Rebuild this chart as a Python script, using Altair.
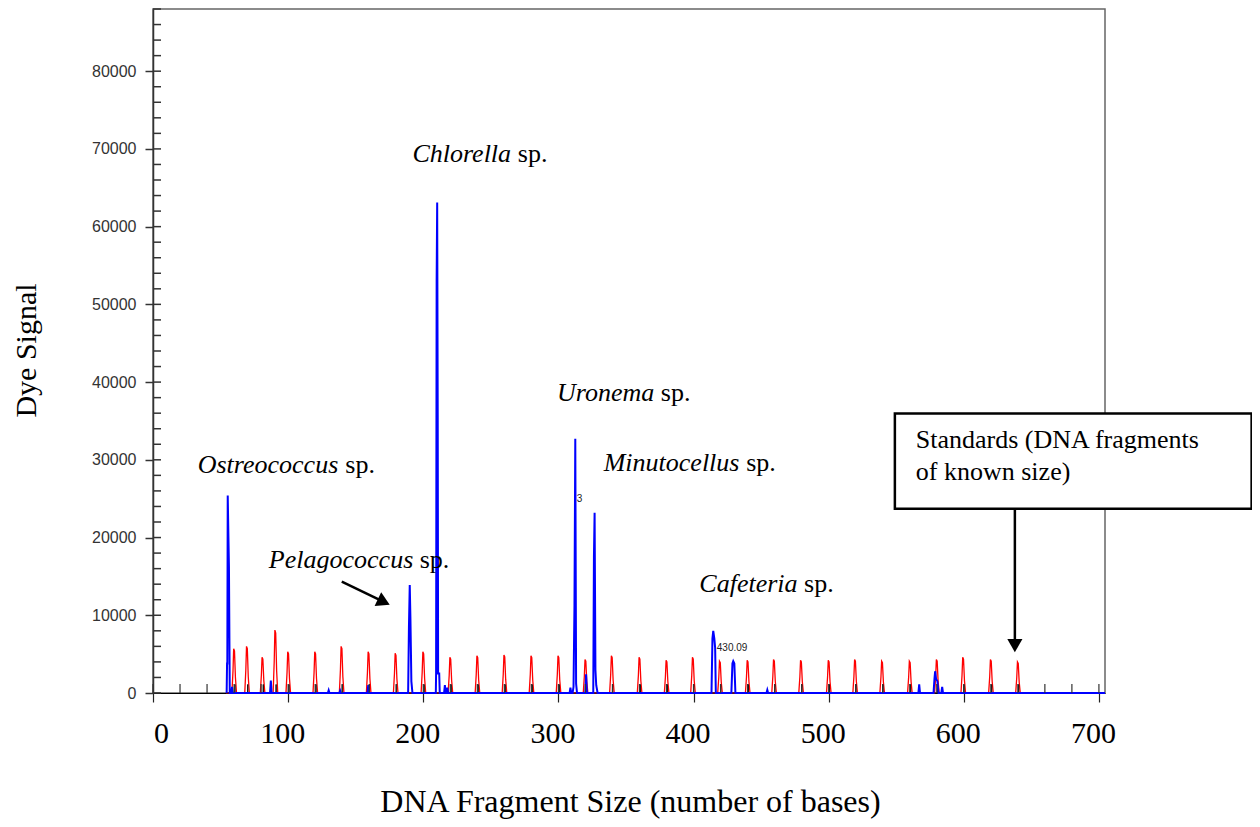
import altair as alt
import pandas as pd

# ---------------- data ----------------
X_MAX = 704.5
Y_MAX = 88000

# size-standard (red) peaks: position (bases), height (signal)
RED_POS = [60, 69.5, 81, 90.5, 100, 120, 139.5, 159.5, 179.5, 200, 220, 240, 260, 280,
           300, 320, 339.5, 360, 380, 399.5, 419.5, 440, 459.5, 479.5, 500, 519.5, 539.5,
           560, 580, 599.5, 620, 640]
RED_H = [5700, 6000, 4600, 8100, 5300, 5300, 6000, 5300, 5100, 5300, 4600, 4800, 4900, 4800,
         4800, 4300, 4800, 4600, 4200, 4600, 4100, 4200, 4300, 4200, 4200, 4300, 4100,
         4100, 4300, 4600, 4300, 4000]
BLACK_H = 1100

# sample (blue) trace: major peak profiles (x, signal)
OSTREO_X = [54.5, 54.8, 55.0, 55.3, 55.8, 56.2, 56.8]
OSTREO_Y = [0, 3800, 3800, 25400, 20200, 16300, 0]
PELAGO_X = [188.8, 189.4, 190.0, 190.5, 191.2, 192.0]
PELAGO_Y = [0, 8500, 13900, 9600, 1500, 0]
CHLOR_X = [209.3, 209.5, 209.9, 210.3, 210.7, 211.0, 211.8, 212.2]
CHLOR_Y = [0, 2500, 53000, 63100, 35700, 2500, 2500, 0]
URON_X = [310.5, 311.2, 311.9, 312.5, 313.1, 313.8]
URON_Y = [0, 800, 11300, 32700, 1200, 0]
MINUT_X = [325.8, 326.3, 326.8, 327.4, 328.0, 329.0]
MINUT_Y = [0, 17400, 23200, 3000, 1000, 0]
CAFE_X = [413.3, 414.0, 414.6, 415.4, 416.0, 416.5]
CAFE_Y = [0, 7000, 8000, 7000, 5800, 0]
P430_X = [428.0, 428.8, 429.4, 430.2, 431.0]
P430_Y = [0, 3800, 4100, 3800, 0]
P579_X = [577.6, 578.3, 578.8, 579.5, 580.5, 581.3]
P579_Y = [0, 1800, 2800, 1800, 1500, 0]
# small blue bumps: position, height
BLUE_SMALL_POS = [58.5, 87.2, 130.0, 138.5, 159.3, 216.0, 217.8, 308.9, 320.5, 454.6, 567.0, 584.0]
BLUE_SMALL_H = [800, 1600, 350, 300, 1000, 1000, 700, 700, 2400, 400, 1100, 800]

X_TICKS = [0, 100, 200, 300, 400, 500, 600, 700]
X_TICKS_INNER = [0, 20, 40, 60, 80, 100, 120, 140, 160, 180, 200, 220, 240, 260, 280, 300,
                 320, 340, 360, 380, 400, 420, 440, 460, 480, 500, 520, 540, 560, 580, 600,
                 620, 640, 660, 680, 700]
Y_TICKS = [0, 10000, 20000, 30000, 40000, 50000, 60000, 70000, 80000]
Y_TICKS_INNER = [0, 2000, 4000, 6000, 8000, 10000, 12000, 14000, 16000, 18000, 20000, 22000,
                 24000, 26000, 28000, 30000, 32000, 34000, 36000, 38000, 40000, 42000, 44000,
                 46000, 48000, 50000, 52000, 54000, 56000, 58000, 60000, 62000, 64000, 66000,
                 68000, 70000, 72000, 74000, 76000, 78000, 80000, 82000, 84000, 86000, 88000]

# annotations
SPECIES = ["Ostreococcus", "Chlorella", "Uronema", "Minutocellus", "Pelagococcus", "Cafeteria"]
SPECIES_END_X = [137.1, 265.0, 371.0, 434.0, 192.6, 477.0]
SP_X = [142.3, 270.0, 375.8, 439.0, 197.4, 481.8]
SPECIES_Y = [28350, 68380, 37620, 28520, 16090, 13040]

SMALL_TEXT = ["3", "430.09"]
SMALL_X = [313.6, 417.2]
SMALL_Y = [24560, 5440]

BOX_X = [549.0, 813.0]
BOX_Y = [23720, 35950]
BOX_LINES = ["Standards (DNA fragments", "of known size)"]
BOX_TEXT_X = 564.5
BOX_TEXT_Y = [31510, 27450]

ARROW_X1 = [139.7, 637.8]
ARROW_Y1 = [14320, 23720]
ARROW_X2 = [170.8, 637.8]
ARROW_Y2 = [11720, 6090]
ARROW_SHAPE = ["triangle-right", "triangle-down"]
ARROW_ANGLE = [25.6, 0]

# ---------------- build tables ----------------
PEAK_DX = [-1.6, -0.8, -0.3, 0.3, 1.0, 1.8]      # glyph of a standard peak
PEAK_FRAC = [0, 0.5, 1.0, 0.95, 0.35, 0]


def trace(profiles, start, end):
    pts = [(start, 0)]
    for xs_, ys_ in sorted(profiles, key=lambda p: p[0][0]):
        pts.extend(zip(xs_, ys_))
    pts.append((end, 0))
    return pts


red_profiles = [([p + d for d in PEAK_DX], [h * f for f in PEAK_FRAC]) for p, h in zip(RED_POS, RED_H)]
black_profiles = [([p + 0.45, p + 0.6, p + 0.75], [0, BLACK_H, 0]) for p in RED_POS]
blue_profiles = [(OSTREO_X, OSTREO_Y), (PELAGO_X, PELAGO_Y), (CHLOR_X, CHLOR_Y), (URON_X, URON_Y),
                 (MINUT_X, MINUT_Y), (CAFE_X, CAFE_Y), (P430_X, P430_Y), (P579_X, P579_Y)]
blue_profiles += [([p - 0.6, p, p + 0.6], [0, h, 0]) for p, h in zip(BLUE_SMALL_POS, BLUE_SMALL_H)]

rows = []
for name, pts in [("red", trace(red_profiles, 54, 650)),
                  ("black", trace(black_profiles, 54, 650)),
                  ("blue", trace(blue_profiles, 54.5, X_MAX))]:
    for i, (x, y) in enumerate(pts):
        rows.append({"series": name, "x": x, "y": y, "i": i})
traces = pd.DataFrame(rows)

xs = alt.Scale(domain=[0, X_MAX], nice=False, zero=False)
ys = alt.Scale(domain=[0, Y_MAX], nice=False)

SERIF = "Liberation Serif"
SANS = "Liberation Sans"

x_axis = alt.Axis(values=X_TICKS, tickSize=9, tickColor="#222", tickWidth=1.2,
                  domainColor="black", domainWidth=1, grid=False,
                  labelFont=SERIF, labelFontSize=30, labelColor="black",
                  labelBaseline="alphabetic", labelPadding=40, labelFlush=False,
                  labelOverlap=False,
                  labelOffset={"condition": {"test": "datum.value == 0", "value": 8}, "value": -6},
                  title="DNA Fragment Size (number of bases)", titleFont=SERIF,
                  titleFontSize=32, titleFontWeight="normal", titleColor="black",
                  titleX=477, titleY=118, titleAlign="center", titleBaseline="alphabetic")
y_axis = alt.Axis(values=Y_TICKS, format="d", tickSize=8, tickColor="#333", tickWidth=1.5,
                  domainColor="#333", domainWidth=1.5, grid=False,
                  labelFont=SANS, labelFontSize=16, labelColor="#333", labelPadding=9,
                  title="Dye Signal", titleFont=SERIF, titleFontSize=30,
                  titleFontWeight="normal", titleColor="black", titleAngle=270,
                  titleX=-127, titleY=341, titleAlign="center", titleBaseline="middle")


def X(field):
    return alt.X(field, scale=xs, axis=x_axis)


def Y(field):
    return alt.Y(field, scale=ys, axis=y_axis)


def line_layer(name, color, width):
    return alt.Chart(traces[traces.series == name]).mark_line(
        color=color, strokeWidth=width, interpolate="linear").encode(
        x=X("x:Q"), y=Y("y:Q"), order="i:Q")


red = line_layer("red", "#ff0000", 1.3)
black = line_layer("black", "#111111", 1)
blue = line_layer("blue", "#0000ff", 2)

x_inner = alt.Chart(pd.DataFrame({"v": X_TICKS_INNER})).mark_rule(color="#333", strokeWidth=1.2).encode(
    x=X("v:Q"), y=alt.value(675), y2=alt.value(684))
y_inner = alt.Chart(pd.DataFrame({"v": Y_TICKS_INNER})).mark_rule(color="#333", strokeWidth=1.5).encode(
    y=Y("v:Q"), x=alt.value(0), x2=alt.value(8))

sp_df = pd.DataFrame({"name": SPECIES, "xe": SPECIES_END_X, "xs": SP_X, "y": SPECIES_Y})
italic = alt.Chart(sp_df).mark_text(font=SERIF, fontSize=26, fontStyle="italic", align="right",
                                    baseline="alphabetic", color="black").encode(
    x=X("xe:Q"), y=Y("y:Q"), text="name:N")
sp = alt.Chart(sp_df).mark_text(font=SERIF, fontSize=26, align="left", baseline="alphabetic",
                                color="black", text="sp.").encode(
    x=X("xs:Q"), y=Y("y:Q"))

small = alt.Chart(pd.DataFrame({"t": SMALL_TEXT, "x": SMALL_X, "y": SMALL_Y})).mark_text(
    font=SANS, fontSize=10, align="left", baseline="alphabetic", color="#222").encode(
    x=X("x:Q"), y=Y("y:Q"), text="t:N")

box = alt.Chart(pd.DataFrame({"x": [BOX_X[0]], "x2": [BOX_X[1]], "y": [BOX_Y[0]], "y2": [BOX_Y[1]]})).mark_rect(
    fill="white", stroke="black", strokeWidth=2.5).encode(
    x=X("x:Q"), x2="x2:Q", y=Y("y:Q"), y2="y2:Q")
box_text = alt.Chart(pd.DataFrame({"t": BOX_LINES, "x": [BOX_TEXT_X] * 2, "y": BOX_TEXT_Y})).mark_text(
    font=SERIF, fontSize=26, align="left", baseline="alphabetic", color="black").encode(
    x=X("x:Q"), y=Y("y:Q"), text="t:N")

arr_df = pd.DataFrame({"x1": ARROW_X1, "y1": ARROW_Y1, "x2": ARROW_X2, "y2": ARROW_Y2,
                       "shape": ARROW_SHAPE, "angle": ARROW_ANGLE})
arrow_lines = alt.Chart(arr_df).mark_rule(color="black", strokeWidth=2.5).encode(
    x=X("x1:Q"), x2="x2:Q", y=Y("y1:Q"), y2="y2:Q")
heads = []
for k in range(len(ARROW_SHAPE)):
    heads.append(alt.Chart(arr_df.iloc[[k]]).mark_point(
        shape=ARROW_SHAPE[k], angle=ARROW_ANGLE[k], filled=True, color="black", opacity=1,
        size=230, strokeWidth=0).encode(
        x=X("x2:Q"), y=Y("y2:Q")))

chart = alt.layer(
    red, black, blue, x_inner, y_inner, italic, sp, small, box, box_text, arrow_lines, *heads
).properties(
    width=952, height=684,
    autosize=alt.AutoSizeParams(type="none"),
    padding={"left": 145, "top": 1, "right": 147, "bottom": 126},
    background="white",
).configure_view(stroke="#666", strokeWidth=1.5)

chart.save("out.html", embed_options={"renderer": "svg", "actions": False})
